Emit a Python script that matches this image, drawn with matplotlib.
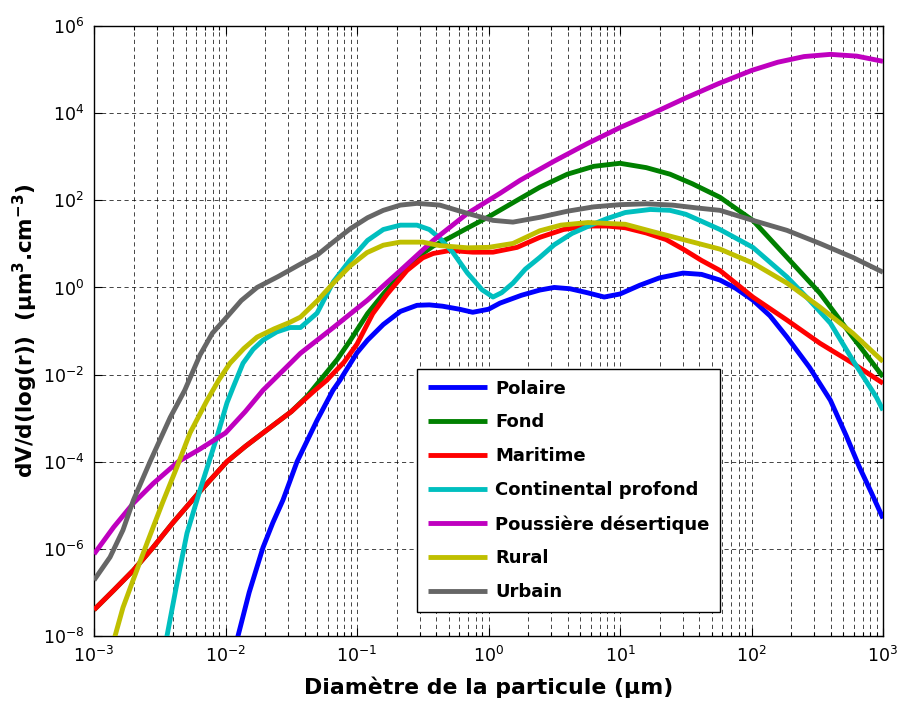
import matplotlib
matplotlib.use("Agg")
import matplotlib.pyplot as plt
import matplotlib.ticker as ticker
import numpy as np

# Diamètres et valeurs, en log10 (diamètre en µm, dV/dlog(r) en µm3.cm-3)
polaire_d = [-1.95, -1.905, -1.82, -1.715, -1.64, -1.563, -1.456, -1.304, -1.183, -1.13, -1.0, -0.92, -0.8,
             -0.67, -0.544, -0.45, -0.35, -0.22, -0.12, 0.0, 0.087, 0.25, 0.39, 0.5, 0.62, 0.75, 0.88, 1.0,
             1.15, 1.3, 1.48, 1.62, 1.76, 1.88, 2.01, 2.14, 2.27, 2.44, 2.6, 2.72, 2.82, 2.91, 3.0]
polaire_v = [-8.6, -8.0, -7.0, -5.97, -5.4, -4.88, -4.0, -3.05, -2.36, -2.13, -1.5, -1.21, -0.85,
             -0.55, -0.41, -0.4, -0.43, -0.5, -0.57, -0.5, -0.36, -0.18, -0.06, 0.0, -0.03, -0.12, -0.22, -0.15,
             0.05, 0.22, 0.33, 0.3, 0.17, -0.02, -0.29, -0.65, -1.14, -1.83, -2.59, -3.4, -4.12, -4.7, -5.3]

fond_d = [-3.0, -2.85, -2.7, -2.56, -2.4, -2.2, -1.99, -1.85, -1.715, -1.5, -1.38, -1.28, -1.15, -1.05,
          -0.92, -0.8, -0.67, -0.544, -0.42, -0.29, -0.15, 0.0, 0.217, 0.39, 0.6, 0.8, 1.0, 1.2, 1.38,
          1.55, 1.76, 2.01, 2.27, 2.52, 2.77, 3.0]
fond_v = [-7.4, -6.95, -6.49, -6.0, -5.4, -4.7, -4.0, -3.65, -3.34, -2.85, -2.5, -2.13, -1.65, -1.21,
          -0.6, -0.15, 0.3, 0.69, 0.95, 1.15, 1.38, 1.62, 2.0, 2.3, 2.6, 2.78, 2.85, 2.75, 2.6,
          2.38, 2.07, 1.54, 0.69, -0.13, -1.14, -2.05]

maritime_d = [-3.0, -2.85, -2.7, -2.56, -2.4, -2.2, -1.99, -1.85, -1.715, -1.5, -1.335, -1.23, -1.1, -1.0,
              -0.88, -0.77, -0.62, -0.5, -0.42, -0.29, -0.12, 0.034, 0.217, 0.39, 0.57, 0.75, 0.9, 1.04,
              1.2, 1.35, 1.48, 1.62, 1.76, 2.01, 2.27, 2.52, 2.77, 3.0]
maritime_v = [-7.4, -6.95, -6.49, -6.0, -5.4, -4.7, -4.0, -3.65, -3.34, -2.85, -2.4, -2.13, -1.72, -1.3,
              -0.6, -0.15, 0.39, 0.68, 0.78, 0.85, 0.81, 0.81, 0.92, 1.15, 1.33, 1.41, 1.41, 1.37,
              1.25, 1.1, 0.88, 0.62, 0.39, -0.22, -0.75, -1.28, -1.74, -2.2]

continental_d = [-2.5, -2.445, -2.37, -2.293, -2.194, -2.065, -1.989, -1.943, -1.867, -1.79, -1.715, -1.61,
                 -1.51, -1.43, -1.304, -1.18, -1.06, -0.92, -0.8, -0.67, -0.544, -0.45, -0.37, -0.27, -0.16,
                 -0.05, 0.034, 0.1, 0.186, 0.28, 0.39, 0.5, 0.635, 0.77, 0.9, 1.04, 1.23, 1.38, 1.5, 1.62,
                 1.76, 2.01, 2.27, 2.44, 2.6, 2.77, 2.95, 3.0]
continental_v = [-8.9, -8.0, -6.8, -5.64, -4.65, -3.43, -2.65, -2.3, -1.74, -1.42, -1.21, -1.02,
                 -0.92, -0.92, -0.59, 0.13, 0.6, 1.08, 1.33, 1.43, 1.43, 1.33, 1.13, 0.8, 0.33,
                 -0.05, -0.22, -0.12, 0.1, 0.42, 0.69, 0.98, 1.24, 1.42, 1.58, 1.72, 1.79, 1.77, 1.68, 1.52,
                 1.33, 0.92, 0.24, -0.29, -0.82, -1.67, -2.52, -2.82]

desert_d = [-3.0, -2.85, -2.7, -2.55, -2.36, -2.2, -2.0, -1.85, -1.715, -1.55, -1.43, -1.18, -0.92, -0.67,
            -0.42, -0.16, 0.087, 0.24, 0.5, 0.75, 1.0, 1.25, 1.5, 1.75, 2.0, 2.2, 2.4, 2.6, 2.8, 3.0]
desert_v = [-6.12, -5.5, -4.95, -4.5, -4.0, -3.72, -3.34, -2.85, -2.36, -1.87, -1.51, -0.92, -0.29, 0.39,
            1.08, 1.70, 2.16, 2.46, 2.9, 3.3, 3.67, 4.0, 4.35, 4.68, 4.98, 5.17, 5.3, 5.35, 5.31, 5.19]

rural_d = [-2.92, -2.84, -2.78, -2.703, -2.597, -2.48, -2.369, -2.27, -2.14, -2.05, -1.966, -1.86, -1.76,
           -1.63, -1.51, -1.43, -1.3, -1.18, -1.05, -0.924, -0.8, -0.673, -0.5, -0.37, -0.16, 0.0, 0.186,
           0.39, 0.55, 0.757, 1.04, 1.25, 1.48, 1.76, 2.01, 2.27, 2.52, 2.77, 3.0]
rural_v = [-8.8, -8.0, -7.35, -6.72, -5.87, -4.95, -4.12, -3.34, -2.59, -2.12, -1.74, -1.4, -1.14,
           -0.95, -0.8, -0.68, -0.3, 0.1, 0.5, 0.8, 0.97, 1.04, 1.04, 0.96, 0.91, 0.92, 1.01,
           1.3, 1.43, 1.49, 1.45, 1.28, 1.1, 0.88, 0.56, 0.1, -0.45, -1.05, -1.7]

urbain_d = [-3.0, -2.878, -2.78, -2.70, -2.574, -2.42, -2.31, -2.194, -2.1, -1.99, -1.88, -1.76, -1.6,
            -1.44, -1.3, -1.19, -1.05, -0.92, -0.8, -0.67, -0.544, -0.37, -0.16, 0.034, 0.186, 0.39, 0.6,
            0.8, 1.0, 1.2, 1.4, 1.6, 1.76, 2.01, 2.27, 2.52, 2.77, 3.0]
urbain_v = [-6.72, -6.19, -5.57, -4.88, -4.0, -2.98, -2.36, -1.55, -1.05, -0.68, -0.3, 0.0, 0.25,
            0.52, 0.75, 1.02, 1.35, 1.6, 1.77, 1.89, 1.93, 1.89, 1.70, 1.54, 1.50, 1.61, 1.75,
            1.85, 1.9, 1.92, 1.89, 1.82, 1.77, 1.54, 1.31, 1.01, 0.69, 0.35]

series = [
    ("Polaire", polaire_d, polaire_v, "#0000ff"),
    ("Fond", fond_d, fond_v, "#008000"),
    ("Maritime", maritime_d, maritime_v, "#ff0000"),
    ("Continental profond", continental_d, continental_v, "#00bfbf"),
    ("Poussière désertique", desert_d, desert_v, "#bf00bf"),
    ("Rural", rural_d, rural_v, "#bfbf00"),
    ("Urbain", urbain_d, urbain_v, "#666666"),
]

x_ticks = [10.0 ** k for k in range(-3, 4)]
y_ticks = [10.0 ** k for k in range(-8, 7, 2)]

plt.rcParams['font.family'] = ['DejaVu Sans']
plt.rcParams['mathtext.fontset'] = 'dejavusans'

fig = plt.figure(figsize=(8.97, 7.04), dpi=100)
ax = fig.add_axes([0.1048, 0.0966, 0.8796, 0.8664])

# les courbes vertes et rouges se superposent aux petits diamètres : rouge dessiné après
order = [1, 0, 2, 3, 4, 5, 6]
lines = {}
for i in order:
    name, d, v, c = series[i]
    ln, = ax.plot(10 ** np.array(d), 10 ** np.array(v), color=c, lw=3.5, label=name,
                  solid_capstyle='butt', solid_joinstyle='round', zorder=3)
    lines[name] = ln

ax.set_xscale('log')
ax.set_yscale('log')
ax.set_xlim(1e-3, 1e3)
ax.set_ylim(1e-8, 1e6)

ax.xaxis.set_major_locator(ticker.FixedLocator(x_ticks))
ax.xaxis.set_major_formatter(ticker.LogFormatterSciNotation(base=10))
ax.xaxis.set_minor_locator(ticker.LogLocator(base=10, subs=np.arange(2, 10), numticks=20))
ax.xaxis.set_minor_formatter(ticker.NullFormatter())
ax.yaxis.set_major_locator(ticker.FixedLocator(y_ticks))
ax.yaxis.set_major_formatter(ticker.LogFormatterSciNotation(base=10))
ax.yaxis.set_minor_locator(ticker.NullLocator())

ax.tick_params(which='both', direction='in', top=True, right=True, labelsize=12.5, width=0.8)
ax.tick_params(which='major', length=6, pad=7)
ax.tick_params(which='minor', length=3)

grid_kw = dict(color='black', linestyle=(0, (5, 4)), linewidth=0.6, alpha=0.85)
ax.grid(True, which='both', axis='x', **grid_kw)
ax.grid(True, which='major', axis='y', **grid_kw)
ax.set_axisbelow(True)
for s in ax.spines.values():
    s.set_linewidth(1.0)

ax.set_xlabel("Diamètre de la particule (µm)", fontsize=15.8, fontweight='bold', labelpad=8)
ax.set_ylabel(r"dV/d(log(r))  (µm$^{\mathbf{3}}$.cm$^{\mathbf{-3}}$)", fontsize=15.5, fontweight='bold',
              labelpad=2)

handles = [lines[s[0]] for s in series]
leg = ax.legend(handles, [s[0] for s in series], loc='lower left', bbox_to_anchor=(0.409, 0.039),
                fancybox=False, edgecolor='black', framealpha=1, borderaxespad=0,
                prop={'weight': 'bold', 'size': 13.0}, handlelength=3.3, labelspacing=0.88,
                handletextpad=0.45, borderpad=0.6)
leg.get_frame().set_linewidth(1.0)
leg.set_zorder(5)

fig.savefig("out.png", dpi=100)
